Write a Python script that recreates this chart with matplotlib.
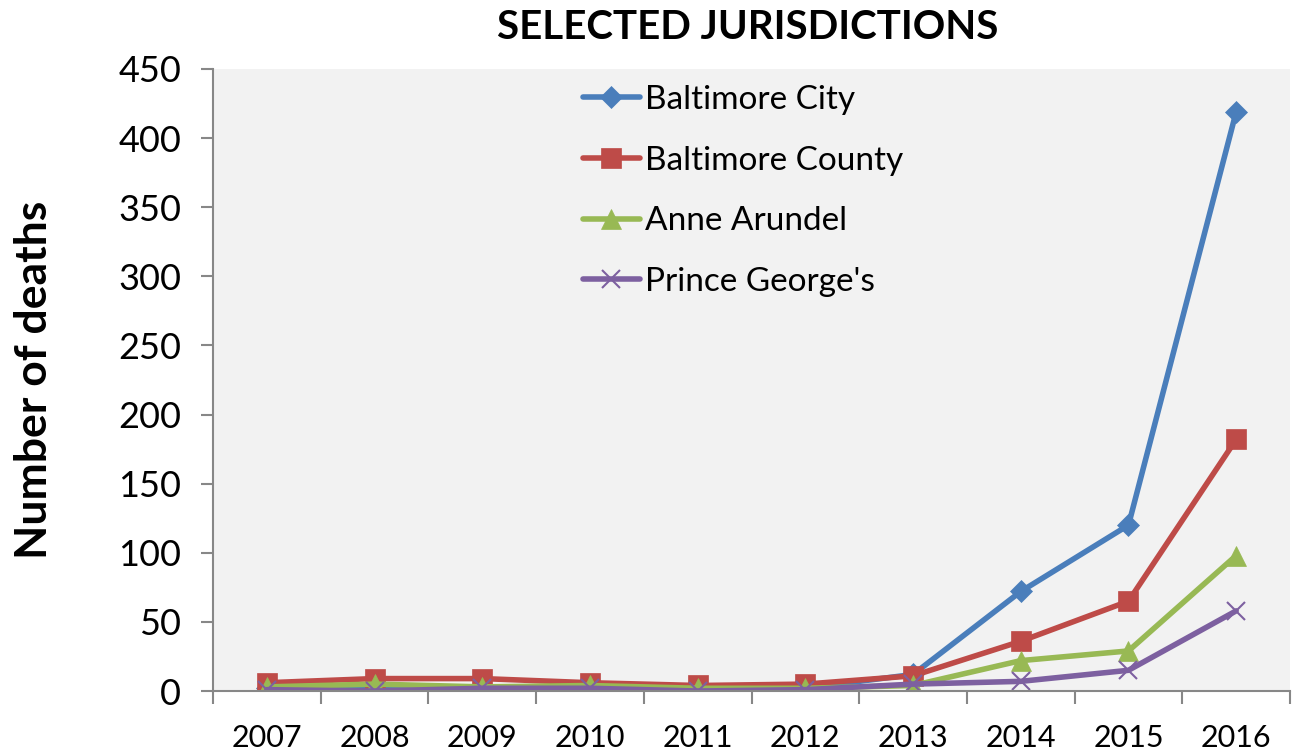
import matplotlib.pyplot as plt
import numpy as np

plt.rcParams['font.family'] = ['Lato', 'DejaVu Sans']

years = ['2007', '2008', '2009', '2010', '2011', '2012', '2013', '2014', '2015', '2016']
baltimore_city = [2, 1, 3, 3, 1, 2, 12, 72, 120, 419]
baltimore_county = [6, 9, 9, 6, 4, 5, 11, 36, 65, 182]
anne_arundel = [3, 5, 3, 4, 2, 2, 4, 22, 29, 98]
prince_georges = [1, 0, 2, 2, 0, 1, 5, 7, 15, 58]

series = [
    ('Baltimore City', baltimore_city, '#4A7EBB', 'D', 11),
    ('Baltimore County', baltimore_county, '#BE4B48', 's', 14),
    ('Anne Arundel', anne_arundel, '#98B954', '^', 14),
    ("Prince George's", prince_georges, '#7D60A0', 'x', 13),
]

fig = plt.figure(figsize=(13.02, 7.53), dpi=100)
ax = fig.add_axes((0.1636, 0.0823, 0.8272, 0.8261))
ax.set_facecolor('#F2F2F2')

x = np.arange(len(years))
for name, vals, color, marker, ms in series:
    ax.plot(x, vals, color=color, lw=4, marker=marker, markersize=ms,
            markeredgewidth=1.5 if marker == 'x' else 0.5,
            markeredgecolor=color, label=name, solid_capstyle='round')

ax.set_xlim(-0.5, len(years) - 0.5)
ax.set_ylim(0, 450)
ax.set_yticks(range(0, 451, 50))
ax.set_yticklabels([str(v) for v in range(0, 451, 50)], fontsize=26)
ax.set_xticks(x)
ax.set_xticklabels(years, fontsize=22)
ax.set_xticks(np.arange(-0.5, len(years), 1), minor=True)
ax.tick_params(axis='x', which='major', length=0, pad=24)
ax.tick_params(axis='x', which='minor', length=9, width=1.5, color='#878787')
ax.tick_params(axis='y', length=9, width=1.5, color='#878787', pad=14)

for s in ['top', 'right']:
    ax.spines[s].set_visible(False)
for s in ['left', 'bottom']:
    ax.spines[s].set_color('#878787')
    ax.spines[s].set_linewidth(1.5)

ax.set_ylabel('Number of deaths', fontsize=32, fontweight='bold', labelpad=46)
fig.text(0.5745, 0.964, 'SELECTED JURISDICTIONS', ha='center', va='center',
         fontsize=29, fontweight='bold')

ax.legend(loc='upper left', bbox_to_anchor=(0.322, 1.012), frameon=False,
          fontsize=24, handlelength=1.7, handletextpad=0.15, labelspacing=0.92,
          borderaxespad=0.3)

fig.savefig('out.png', dpi=100)
